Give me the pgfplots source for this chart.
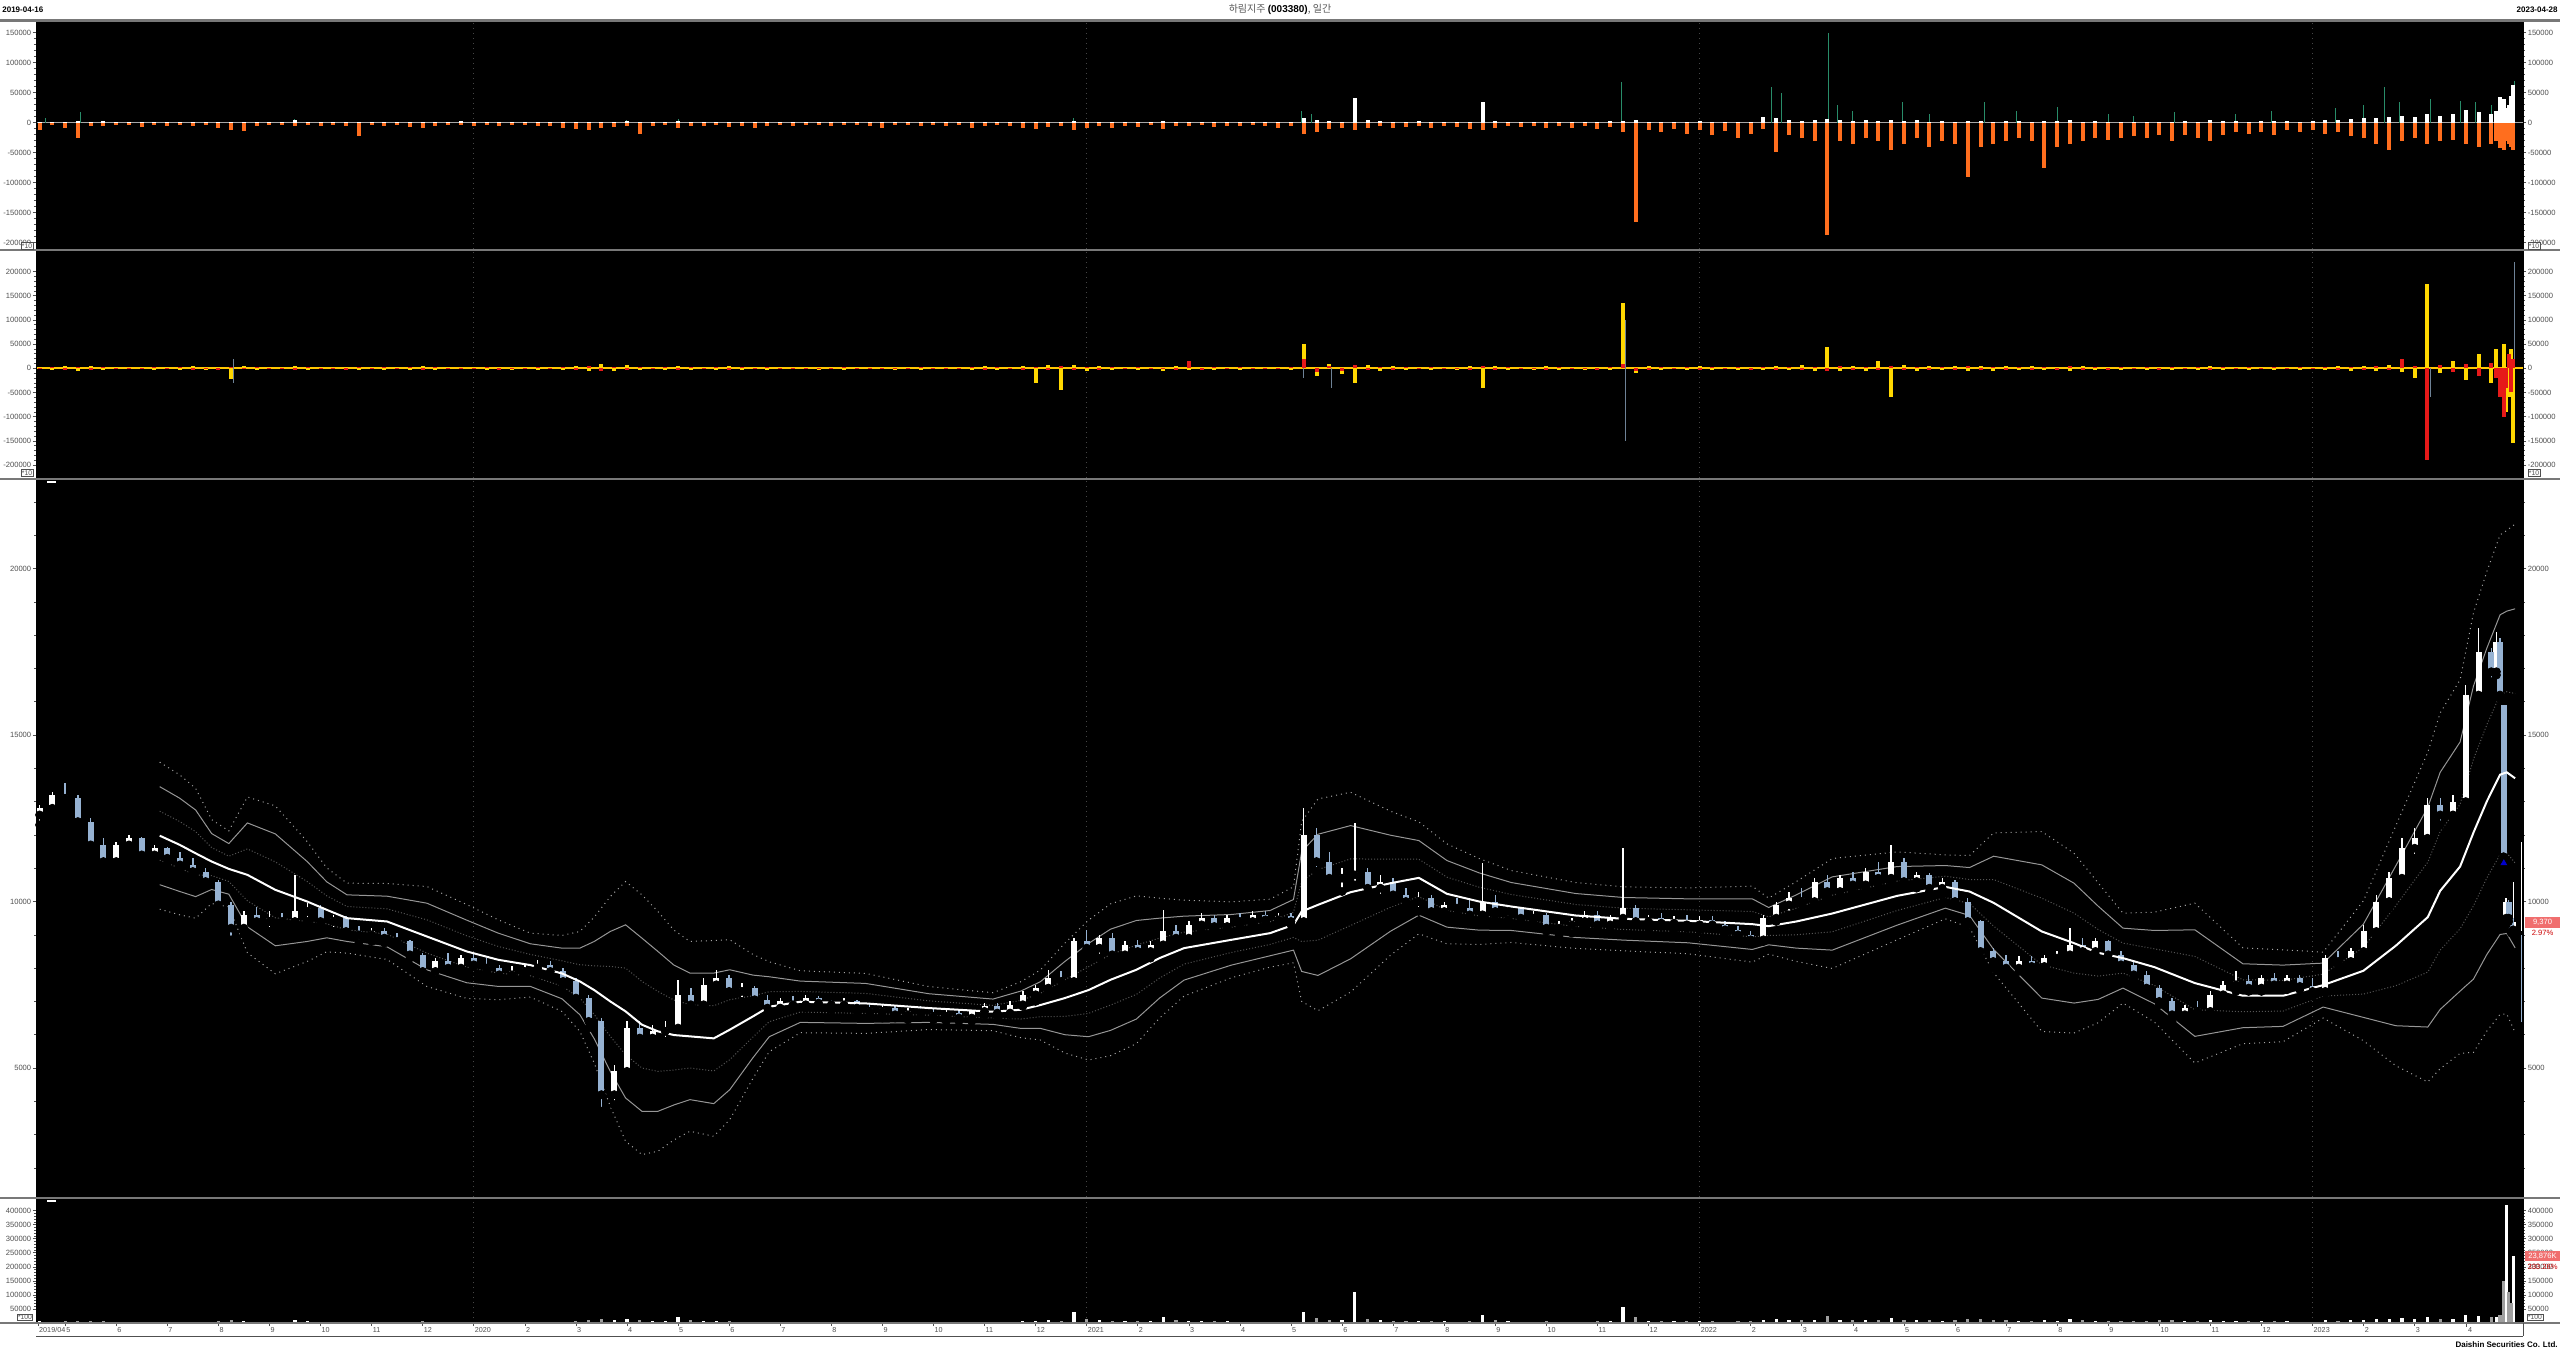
\documentclass[border=0pt]{standalone}
\usepackage{pgfplots}
\pgfplotsset{compat=1.18}
\usepackage{pgfplotstable}
\usepackage{fontspec}
\setmainfont{Liberation Sans}
\newfontfamily\kr{Noto Sans CJK KR}
\definecolor{org}{RGB}{255,110,30}
\definecolor{grn}{RGB}{40,140,105}
\definecolor{yel}{RGB}{255,215,0}
\definecolor{redb}{RGB}{230,25,25}
\definecolor{candown}{RGB}{150,178,210}
\definecolor{tickgray}{RGB}{80,80,80}
\definecolor{sep}{RGB}{120,120,120}
\definecolor{lblred}{RGB}{240,110,110}
\definecolor{gA}{RGB}{150,150,150}
\definecolor{gB}{RGB}{165,165,165}
\definecolor{gC}{RGB}{85,85,85}
\definecolor{grid}{RGB}{70,70,70}
\definecolor{spk}{RGB}{110,130,150}

\pgfplotstableread{
x o h l c org wht yel red vol
3.50 12600 12900 12300 12800 -12000 1000 3000 -2000 6000
3.75 12800 13300 12700 13200 -4000 2000 -4000 2500 5000
4.00 13200 13550 13000 13100 -9000 1500 5000 -3000 7000
4.25 13100 13200 12300 12400 -26000 3000 -6000 2000 8000
4.50 12400 12500 11500 11700 -6000 1000 4000 -3000 6000
4.75 11700 11900 10950 11200 -5000 3000 -3000 2000 7000
5.00 11200 11800 11100 11700 -3000 1500 2000 -2000 5000
5.25 11700 12000 11500 11900 -4000 1000 -2000 1500 4000
5.50 11900 11950 11300 11400 -7000 500 3000 -2000 4000
5.75 11400 11700 11200 11600 -3000 1000 -4000 2000 3500
6.00 11600 11650 11150 11300 -5000 800 2500 -1500 3500
6.25 11300 11500 11000 11100 -4000 600 -3000 2000 4000
6.50 11100 11300 10800 10900 -6000 1200 4000 -2500 4500
6.75 10900 11000 10500 10600 -3000 500 -2500 1500 4000
7.00 10600 10650 9800 9900 -8000 700 3500 -3000 6000
7.25 9900 10000 8850 9200 -12000 1000 -22000 3000 9000
7.50 9200 9700 9000 9600 -13000 2000 5000 -2000 7000
7.75 9600 9850 9300 9400 -5000 800 -3000 2000 5000
8.00 9400 9700 9100 9500 -4000 1500 3000 -1500 4500
8.25 9500 9650 9300 9400 -3000 500 -2000 1000 4000
8.50 9400 10800 9350 9700 -6000 5000 4000 -3000 12000
8.75 9700 9950 9400 9800 -4000 1000 -3000 2000 6000
9.00 9800 9900 9300 9400 -5000 800 2500 -2000 4000
9.25 9400 9600 9100 9500 -3000 600 -2000 1500 3500
9.50 9500 9550 9000 9100 -6000 700 3000 -2500 4000
9.75 9100 9250 8750 9000 -22000 500 -4000 2000 5000
10.00 9000 9200 8800 9100 -4000 1000 2000 -1500 3500
10.25 9100 9200 8750 8900 -5000 600 -3000 2000 3500
10.50 8900 9050 8700 8800 -4000 500 2500 -1500 3000
10.75 8800 8850 8300 8400 -7000 800 -3500 2500 4500
11.00 8400 8450 7700 7900 -9000 1000 4000 -3000 6000
11.25 7900 8300 7650 8200 -5000 2000 -3000 2000 5000
11.50 8200 8450 7900 8000 -4000 1500 3000 -2000 4000
11.75 8000 8400 7850 8300 -3000 2500 -2000 1500 4000
12.00 8300 8450 8050 8100 -5000 1000 2500 -2000 3500
12.25 8100 8300 7900 8000 -4000 800 -3000 2000 3500
12.50 8000 8100 7650 7800 -6000 600 3500 -2500 4000
12.75 7800 8050 7650 7900 -3000 1000 -2500 1500 3500
13.00 7900 8100 7750 8000 -4000 700 3000 -2000 3000
13.25 8000 8250 7800 8100 -5000 1200 -3000 2500 3500
13.50 8100 8200 7750 7900 -6000 500 2500 -2000 4000
13.75 7900 8000 7500 7600 -8000 800 -4000 3000 5000
14.00 7600 7700 7000 7100 -10000 600 5000 -3000 7000
14.25 7100 7200 6200 6400 -12000 800 -6000 4000 9000
14.50 6400 6500 3700 4200 -9000 1500 8000 -5000 14000
14.75 4200 5100 3900 4900 -7000 2000 -5000 3000 12000
15.00 4900 6400 4800 6200 -6000 3000 6000 -4000 15000
15.25 6200 6400 5700 5900 -19000 1000 -4000 3000 9000
15.50 5900 6300 5650 6100 -5000 1500 3000 -2000 7000
15.75 6100 6400 5800 6200 -4000 1000 -3000 2000 6000
16.00 6200 7650 6150 7200 -8000 3000 5000 -3000 22000
16.25 7200 7400 6650 6900 -6000 1000 -4000 2500 9000
16.50 6900 7700 6800 7500 -5000 2000 3500 -2000 8000
16.75 7500 7950 7300 7700 -4000 1500 -3000 2000 7000
17.00 7700 7800 7200 7300 -7000 800 4000 -2500 6000
17.25 7300 7550 7000 7400 -5000 1000 -2500 2000 5000
17.50 7400 7450 6950 7050 -9000 600 3000 -2000 5000
17.75 7050 7200 6600 6800 -6000 700 -3500 2500 5000
18.00 6800 7100 6700 7000 -4000 1200 2500 -1500 4000
18.25 7000 7150 6800 6900 -5000 500 -2000 1500 3500
18.50 6900 7200 6800 7100 -3000 1000 3000 -2000 4000
18.75 7100 7150 6850 6950 -4000 600 -2500 1500 3500
19.00 6950 7050 6750 6900 -6000 500 2000 -1500 3000
19.25 6900 7100 6800 7000 -3000 800 -3000 2000 3000
19.50 7000 7050 6700 6800 -4000 500 2500 -1500 3500
19.75 6800 6950 6600 6700 -5000 600 -2000 1500 3000
20.00 6700 6900 6500 6800 -8000 1000 3000 -2000 3500
20.25 6800 6850 6500 6600 -4000 500 -2500 1500 3000
20.50 6600 6800 6450 6700 -3000 700 2000 -1500 3000
20.75 6700 6850 6550 6650 -5000 600 -3000 2000 3000
21.00 6650 6800 6450 6550 -4000 500 2500 -1500 3000
21.25 6550 6750 6400 6650 -6000 900 -2000 1500 3500
21.50 6650 6750 6400 6500 -3000 500 3000 -2000 3000
21.75 6500 6750 6400 6700 -9000 1000 -3000 2000 3500
22.00 6700 6950 6600 6850 -5000 1500 4000 -2500 4000
22.25 6850 6950 6550 6650 -4000 600 -3500 2000 3500
22.50 6650 7000 6600 6900 -6000 1200 3000 -2000 5000
22.75 6900 7300 6850 7200 -8000 2000 5000 -3000 6000
23.00 7200 7500 7000 7400 -10000 1500 -30000 2500 6000
23.25 7400 7950 7300 7700 -7000 2000 6000 -3000 9000
23.50 7700 7900 7400 7600 -6000 1000 -45000 4000 8000
23.75 7600 8900 7550 8800 -12000 3000 7000 -4000 40000
24.00 8800 9150 8400 8600 -9000 1500 -6000 3000 14000
24.25 8600 9000 8300 8900 -6000 2000 5000 -3000 10000
24.50 8900 9050 8300 8400 -8000 1000 -4000 2500 8000
24.75 8400 8800 8250 8700 -5000 1500 3500 -2000 7000
25.00 8700 8850 8350 8500 -7000 800 -3000 2000 6000
25.25 8500 8800 8300 8700 -4000 1200 3000 -2000 6000
25.50 8700 9750 8600 9100 -10000 2500 -5000 -2000 20000
25.75 9100 9300 8700 8900 -6000 1000 4000 -3000 9000
26.00 8900 9400 8800 9300 -5000 1500 -3000 15000 8000
26.25 9300 9650 9100 9500 -4000 2000 3500 -2500 8000
26.50 9500 9600 9150 9250 -7000 800 -2500 2000 6000
26.75 9250 9600 9200 9500 -5000 1500 3000 -2000 6000
27.00 9500 9650 9300 9400 -6000 1000 -3000 2000 5000
27.25 9400 9700 9300 9600 -4000 1500 2500 -1500 5000
27.50 9600 9700 9350 9450 -5000 700 -2000 1500 4500
27.75 9450 9650 9350 9550 -8000 1000 3000 -2000 5000
28.00 9550 9650 9300 9400 -6000 2000 -3000 2000 5000
28.25 9400 12800 9350 12000 -18000 8000 50000 20000 40000
28.50 12000 12200 10900 11200 -15000 5000 -15000 -8000 18000
28.75 11200 11500 10500 10700 -10000 3000 8000 5000 12000
29.00 10700 11000 10300 10800 -8000 2000 -12000 -5000 9000
29.25 10800 12350 10500 10900 -12000 41000 -30000 6000 110000
29.50 10900 11000 10200 10400 -9000 4000 6000 -4000 15000
29.75 10400 10800 10100 10600 -6000 3000 -5000 3000 9000
30.00 10600 10700 10000 10200 -8000 2000 4000 -3000 8000
30.25 10200 10400 9800 10000 -7000 1500 -4000 2500 7000
30.50 10000 10300 9700 10100 -5000 2500 3500 -2000 7000
30.75 10100 10200 9600 9700 -9000 1000 -3000 2000 6000
31.00 9700 10000 9500 9900 -6000 2000 3000 -2000 6000
31.25 9900 10100 9600 9800 -7000 1500 -2500 1500 5000
31.50 9800 10100 9500 9600 -10000 1000 4000 -2500 6000
31.75 9600 11150 9550 10000 -12000 35000 -40000 5000 30000
32.00 10000 10200 9600 9700 -8000 3000 5000 -3000 9000
32.25 9700 9900 9450 9800 -6000 2000 -3000 2000 6000
32.50 9800 9850 9400 9500 -7000 1000 3000 -2000 5000
32.75 9500 9700 9350 9600 -5000 1500 -2500 1500 5000
33.00 9600 9650 9100 9200 -9000 800 4000 -3000 6000
33.25 9200 9400 9000 9300 -6000 1200 -3000 2000 5000
33.50 9300 9500 9050 9400 -8000 1500 3000 -2000 5000
33.75 9400 9700 9200 9600 -5000 2000 -2500 1500 5000
34.00 9600 9700 9200 9300 -10000 1000 3500 -2500 6000
34.25 9300 9600 9150 9500 -7000 2500 -3000 2000 6000
34.50 9500 11600 9400 9800 -15000 3000 135000 8000 58000
34.75 9800 9900 9300 9400 -166000 4000 -10000 -6000 20000
35.00 9400 9600 9200 9500 -12000 2000 5000 -3000 8000
35.25 9500 9650 9250 9350 -15000 1500 -4000 2500 7000
35.50 9350 9550 9150 9450 -10000 2000 3000 -2000 6000
35.75 9450 9600 9200 9300 -18000 1000 -3500 2500 6000
36.00 9300 9550 9150 9450 -12000 2500 4000 -3000 6000
36.25 9450 9550 9200 9300 -20000 1500 -3000 2000 6000
36.50 9300 9400 9050 9150 -14000 1000 3000 -2000 5000
36.75 9150 9250 8900 9000 -25000 1200 -4000 3000 7000
37.00 9000 9100 8750 8850 -18000 800 3500 -2500 7000
37.25 8850 9600 8800 9500 -10000 10000 -3000 2000 12000
37.50 9500 10000 9400 9900 -49000 8000 5000 -3000 14000
37.75 9900 10300 9600 10100 -20000 5000 -4000 3000 12000
38.00 10100 10400 9900 10000 -25000 3000 6000 -3000 10000
38.25 10000 10700 9950 10600 -30000 4000 -5000 3000 12000
38.50 10600 10800 10100 10300 -187000 6000 45000 -5000 25000
38.75 10300 10800 10200 10700 -30000 4000 -6000 4000 12000
39.00 10700 10900 10300 10500 -35000 3000 5000 -3000 10000
39.25 10500 11000 10400 10900 -25000 4000 -5000 3000 10000
39.50 10900 11200 10500 10700 -30000 3000 15000 -4000 11000
39.75 10700 11700 10600 11200 -45000 5000 -60000 5000 18000
40.00 11200 11300 10500 10600 -35000 3000 6000 -4000 12000
40.25 10600 10900 10400 10800 -25000 4000 -5000 3000 9000
40.50 10800 10850 10300 10400 -40000 2000 5000 -3000 9000
40.75 10400 10700 10200 10600 -30000 3000 -4000 2500 8000
41.00 10600 10650 9900 10000 -35000 2000 4000 -3000 9000
41.25 10000 10100 9300 9400 -90000 2500 -6000 4000 14000
41.50 9400 9450 8300 8500 -40000 3000 5000 -3000 16000
41.75 8500 8600 8000 8200 -35000 2000 -5000 3000 12000
42.00 8200 8400 7900 8000 -30000 2500 4000 -2500 9000
42.25 8000 8350 7900 8200 -25000 3000 -3500 2500 8000
42.50 8200 8350 7900 8050 -30000 2000 4000 -3000 8000
42.75 8050 8400 7950 8300 -76000 3000 -3000 2000 9000
43.00 8300 8500 8150 8400 -40000 2500 3500 -2500 8000
43.25 8400 9200 8300 8700 -35000 4000 -5000 4000 14000
43.50 8700 8900 8300 8500 -30000 2000 4000 -3000 9000
43.75 8500 8900 8400 8800 -25000 3000 -3000 2000 8000
44.00 8800 8850 8300 8400 -28000 2000 3000 -2500 7000
44.25 8400 8500 8000 8100 -25000 1500 -3500 2500 7000
44.50 8100 8200 7700 7800 -22000 2000 3000 -2000 7000
44.75 7800 7900 7300 7400 -25000 1500 -4000 3000 8000
45.00 7400 7500 6900 7000 -20000 2000 3500 -2500 9000
45.25 7000 7100 6400 6600 -30000 1500 -4000 3000 10000
45.50 6600 6900 6450 6800 -20000 3000 3000 -2000 8000
45.75 6800 7000 6550 6700 -25000 2000 -2500 2000 7000
46.00 6700 7300 6650 7200 -30000 4000 4000 -3000 9000
46.25 7200 7600 7000 7500 -20000 3000 -3000 2000 8000
46.50 7500 7900 7300 7600 -15000 2500 3000 -2000 8000
46.75 7600 7800 7300 7400 -18000 2000 -2500 2000 6000
47.00 7400 7800 7300 7700 -15000 3000 3000 -2000 6000
47.25 7700 7850 7400 7500 -20000 2500 -3000 2000 6000
47.50 7500 7800 7350 7700 -12000 3000 2500 -2000 6000
47.75 7700 7800 7350 7450 -15000 2000 -3000 2000 5000
48.00 7450 7700 7150 7300 -12000 3000 3000 -2000 5000
48.25 7300 8400 7250 8300 -18000 5000 -4000 3000 12000
48.50 8300 8500 8100 8200 -15000 4000 4000 -3000 8000
48.75 8200 8600 8100 8500 -22000 6000 -5000 3000 9000
49.00 8500 9300 8400 9100 -25000 8000 5000 -4000 12000
49.25 9100 10200 9000 10000 -35000 8000 -6000 4000 15000
49.50 10000 10900 9800 10700 -46000 10000 6000 -4000 16000
49.75 10700 11900 10600 11600 -30000 12000 -8000 20000 18000
50.00 11600 12200 11300 11900 -25000 10000 -20000 5000 15000
50.25 11900 13100 11800 12900 -35000 15000 175000 -190000 20000
50.50 12900 13100 12300 12600 -30000 12000 -10000 6000 14000
50.75 12600 13200 12500 13000 -28000 15000 15000 -8000 16000
51.00 13000 16500 12900 16200 -35000 22000 -25000 8000 30000
51.25 16200 18200 16000 17500 -40000 18000 30000 -15000 25000
51.50 17500 17600 16600 16900 -35000 15000 -30000 10000 20000
51.60 16900 18100 16800 17800 -30000 20000 40000 -20000 22000
51.67 17800 17900 16100 16200 -42000 43000 -40000 -60000 28000
51.74 15900 15900 11340 11340 -45000 40000 50000 -100000 150000
51.79 9500 10100 9300 10000 -30000 25000 -90000 -40000 420000
51.84 10000 10050 9400 9500 -35000 30000 -60000 30000 110000
51.89 9500 9600 9050 9100 -40000 45000 40000 -50000 70000
51.93 9150 10600 9050 9370 -45000 63000 -155000 20000 240000
}\data

\pgfplotstableread{
x ma u1 l1 u2 l2 u3 l3
5.852 11977 12713 11241 13449 10505 14185 9769
6.246 11700 12400 11000 13100 10300 13800 9600
6.556 11447 12097 10797 12747 10147 13397 9497
6.869 11200 11620 10780 12040 10360 12460 9940
7.205 10980 11360 10600 11740 10220 12120 9840
7.569 10800 11580 10020 12360 9240 13140 8460
8.116 10350 11190 9510 12030 8670 12870 7830
8.739 10000 10600 9400 11200 8800 11800 8200
9.123 9750 10170 9330 10590 8910 11010 8490
9.519 9500 9850 9150 10200 8800 10550 8450
10.302 9400 9780 9020 10160 8640 10540 8260
11.082 8950 9450 8450 9950 7950 10450 7450
11.863 8500 8970 8030 9440 7560 9910 7090
12.480 8250 8650 7850 9050 7450 9450 7050
13.109 8090 8410 7770 8730 7450 9050 7130
13.726 7840 8220 7460 8600 7080 8980 6700
14.078 7600 8100 7100 8600 6600 9100 6100
14.359 7340 8070 6610 8800 5880 9530 5150
14.673 7000 8050 5950 9100 4900 10150 3850
14.973 6700 8000 5400 9300 4100 10600 2800
15.293 6300 7600 5000 8900 3700 10200 2400
15.606 6100 7300 4900 8500 3700 9700 2500
15.919 5990 7040 4940 8090 3890 9140 2840
16.233 5950 6900 5000 7850 4050 8800 3100
16.700 5890 6870 4910 7850 3930 8830 2950
17.013 6150 7050 5250 7950 4350 8850 3450
17.467 6550 7170 5930 7790 5310 8410 4690
17.786 6840 7290 6390 7740 5940 8190 5490
18.394 6990 7300 6680 7610 6370 7920 6060
19.673 6940 7240 6640 7540 6340 7840 6040
20.913 6800 7015 6585 7230 6370 7445 6155
22.166 6690 6880 6500 7070 6310 7260 6120
22.710 6750 7030 6470 7310 6190 7590 5910
23.093 6890 7240 6540 7590 6190 7940 5840
23.573 7100 7650 6550 8200 6000 8750 5450
24.036 7340 8040 6640 8740 5940 9440 5240
24.468 7650 8410 6890 9170 6130 9930 5370
24.973 7950 8690 7210 9430 6470 10170 5730
25.427 8300 8900 7700 9500 7100 10100 6500
25.907 8600 9080 8120 9560 7640 10040 7160
26.834 8850 9230 8470 9610 8090 9990 7710
27.591 9050 9390 8710 9730 8370 10070 8030
28.049 9300 9680 8920 10060 8540 10440 8160
28.209 9700 10600 8800 11500 7900 12400 7000
28.529 9900 10960 8840 12020 7780 13080 6720
29.168 10280 11280 9280 12280 8280 13280 7280
29.951 10550 11270 9830 11990 9110 12710 8390
30.504 10710 11270 10150 11830 9590 12390 9030
31.054 10230 10730 9730 11230 9230 11730 8730
31.684 10000 10430 9570 10860 9140 11290 8710
32.313 9850 10210 9490 10570 9130 10930 8770
33.573 9580 9910 9250 10240 8920 10570 8590
34.516 9480 9800 9160 10120 8840 10440 8520
35.775 9420 9750 9090 10080 8760 10410 8430
37.032 9320 9700 8940 10080 8560 10460 8180
37.352 9260 9540 8980 9820 8700 10100 8420
37.895 9400 9800 9000 10200 8600 10600 8200
38.598 9640 10190 9090 10740 8540 11290 7990
39.868 10170 10610 9730 11050 9290 11490 8850
40.811 10440 10760 10120 11080 9800 11400 9480
41.284 10300 10660 9940 11020 9580 11380 9220
41.757 9960 10660 9260 11360 8560 12060 7860
42.700 9100 10100 8100 11100 7100 12100 6100
43.330 8750 9650 7850 10550 6950 11450 6050
43.803 8460 9160 7760 9860 7060 10560 6360
44.289 8300 8750 7850 9200 7400 9650 6950
44.903 8030 8580 7480 9130 6930 9680 6380
45.696 7550 8350 6750 9150 5950 9950 5150
46.636 7170 7650 6690 8130 6210 8610 5730
47.422 7170 7630 6710 8090 6250 8550 5790
48.209 7490 7820 7160 8150 6830 8480 6500
48.996 7920 8620 7220 9320 6520 10020 5820
49.629 8670 9870 7470 11070 6270 12270 5070
50.256 9530 11180 7880 12830 6230 14480 4580
50.499 10320 12100 8540 13880 6760 15660 4980
50.889 11050 12920 9180 14790 7310 16660 5440
51.151 12070 14270 9870 16470 7670 18670 5470
51.413 13010 15310 10710 17610 8410 19910 6110
51.672 13810 16210 11410 18610 9010 21010 6610
51.803 13880 16300 11460 18720 9040 21140 6620
51.966 13700 16245 11155 18790 8610 21335 6065
}\bands

\pgfplotstableread{
x v
3.62 8000
4.30 18000
8.50 6000
15.00 5000
16.00 6000
23.75 8000
28.20 20000
28.40 15000
29.25 10000
34.47 68000
37.40 60000
37.60 50000
38.53 150000
38.70 30000
39.00 20000
39.97 35000
40.50 15000
41.57 35000
42.20 20000
43.00 27000
44.00 15000
44.50 12000
45.30 18000
46.50 15000
47.20 20000
48.44 25000
49.00 30000
49.40 60000
49.70 35000
50.30 40000
50.90 36000
51.20 35000
51.50 30000
51.70 25000
51.96 70000
}\grnspk

\pgfplotstableread{
x v
7.30 -30000
7.30 20000
28.25 -20000
28.25 45000
28.80 -40000
31.75 -30000
34.55 -150000
34.55 100000
50.30 -60000
51.96 220000
51.96 -140000
}\gryspk

\pgfplotsset{
  base/.style={
    scale only axis, width=1243.5pt, xmin=3.43, xmax=52.12,
    tick align=outside, major tick length=1.6pt, minor tick length=1pt,
    tick style={tickgray, line width=0.3pt},
    xtick=\empty, scaled y ticks=false,
    yticklabel style={font=\fontsize{3.8pt}{4.5pt}\selectfont, text=tickgray, inner sep=0.6pt,
      /pgf/number format/fixed, /pgf/number format/precision=0, /pgf/number format/1000 sep={}},
    /pgf/number format/assume math mode=true,
    axis line style={draw=black, line width=0.4pt},
  },
  L/.style={base, ytick pos=left, axis background/.style={fill=black}},
  R/.style={base, ytick pos=right, yticklabel pos=right},
}

\begin{document}
\begin{tikzpicture}
\path[use as bounding box] (0,0) rectangle (1280pt,-676.5pt);
\fill[white] (0,0) rectangle (1280pt,-676.5pt);

% ---------------- Panel 1 ----------------
\begin{axis}[L, at={(18pt,-124.5pt)}, anchor=south west, height=113.75pt,
  ymin=-210500, ymax=168700, ytick={-200000,-150000,...,150000}, minor y tick num=4]
  \pgfplotsinvokeforeach{12,24,36,48}{\draw[grid, dotted, line width=0.5pt] (axis cs:#1,-210500) -- (axis cs:#1,168700);}
  \draw[gray!70, line width=0.4pt] (axis cs:3.43,0) -- (axis cs:52.12,0);
  \addplot[ycomb, grn, line width=0.5pt, mark=none] table[x=x, y=v] {\grnspk};
  \addplot[ycomb, org, line width=2pt, mark=none] table[x=x, y=org] {\data};
  \addplot[ycomb, white, line width=2pt, mark=none] table[x=x, y=wht] {\data};
\end{axis}
\begin{axis}[R, at={(18pt,-124.5pt)}, anchor=south west, height=113.75pt,
  ymin=-210500, ymax=168700, ytick={-200000,-150000,...,150000}, minor y tick num=4]
  \addplot[draw=none] coordinates {(10,0)};
\end{axis}

% ---------------- Panel 2 ----------------
\begin{axis}[L, at={(18pt,-239pt)}, anchor=south west, height=113.5pt,
  ymin=-226700, ymax=242400, ytick={-200000,-150000,...,200000}, minor y tick num=4]
  \pgfplotsinvokeforeach{12,24,36,48}{\draw[grid, dotted, line width=0.5pt] (axis cs:#1,-226700) -- (axis cs:#1,242400);}
  \draw[yel!80!orange, line width=1pt] (axis cs:3.43,0) -- (axis cs:52.12,0);
  \addplot[ycomb, spk, line width=0.5pt, mark=none] table[x=x, y=v] {\gryspk};
  \addplot[ycomb, yel, line width=2pt, mark=none] table[x=x, y=yel] {\data};
  \addplot[ycomb, redb, line width=2pt, mark=none] table[x=x, y=red] {\data};
\end{axis}
\begin{axis}[R, at={(18pt,-239pt)}, anchor=south west, height=113.5pt,
  ymin=-226700, ymax=242400, ytick={-200000,-150000,...,200000}, minor y tick num=4]
  \addplot[draw=none] coordinates {(10,0)};
\end{axis}

% ---------------- Panel 3: price ----------------
\begin{axis}[L, at={(18pt,-598.5pt)}, anchor=south west, height=358.5pt,
  ymin=1126, ymax=22658, ytick={5000,10000,15000,20000}, minor ytick={2000,3000,...,22000}]
  \pgfplotsinvokeforeach{12,24,36,48}{\draw[grid, dotted, line width=0.5pt] (axis cs:#1,1126) -- (axis cs:#1,22658);}
  \addplot[gB, dotted, line width=0.5pt] table[x=x, y=u3] {\bands};
  \addplot[gB, dotted, line width=0.5pt] table[x=x, y=l3] {\bands};
  \addplot[gC, densely dotted, line width=0.5pt] table[x=x, y=u1] {\bands};
  \addplot[gC, densely dotted, line width=0.5pt] table[x=x, y=l1] {\bands};
  \addplot[gA, line width=0.5pt] table[x=x, y=u2] {\bands};
  \addplot[gA, line width=0.5pt] table[x=x, y=l2] {\bands};
  % wicks
  \addplot[only marks, mark=none, restrict expr to domain={\thisrow{c}-\thisrow{o}}{0:100000},
    error bars/.cd, y dir=plus, y explicit, error mark=none, error bar style={white, line width=0.7pt}]
    table[x=x, y=l, y error plus expr=\thisrow{h}-\thisrow{l}] {\data};
  \addplot[only marks, mark=none, restrict expr to domain={\thisrow{c}-\thisrow{o}}{-100000:-0.5},
    error bars/.cd, y dir=plus, y explicit, error mark=none, error bar style={candown, line width=0.7pt}]
    table[x=x, y=l, y error plus expr=\thisrow{h}-\thisrow{l}] {\data};
  % bodies
  \addplot[only marks, mark=none, restrict expr to domain={\thisrow{c}-\thisrow{o}}{0:100000},
    error bars/.cd, y dir=plus, y explicit, error mark=none, error bar style={white, line width=3pt}]
    table[x=x, y=o, y error plus expr=\thisrow{c}-\thisrow{o}] {\data};
  \addplot[only marks, mark=none, restrict expr to domain={\thisrow{c}-\thisrow{o}}{-100000:-0.5},
    error bars/.cd, y dir=plus, y explicit, error mark=none, error bar style={candown, line width=3pt}]
    table[x=x, y=c, y error plus expr=\thisrow{o}-\thisrow{c}] {\data};
  \addplot[white, line width=1pt] table[x=x, y=ma] {\bands};
  \addplot[only marks, mark=triangle*, mark size=1.6pt, color=blue!80!black] coordinates {(51.745,11150)};
  \addplot[white, line width=0.8pt] coordinates {(52.09,9120) (52.09,11800)};
  \addplot[candown, line width=0.8pt] coordinates {(52.09,6370) (52.09,8980)};
\end{axis}
\begin{axis}[R, at={(18pt,-598.5pt)}, anchor=south west, height=358.5pt,
  ymin=1126, ymax=22658, ytick={5000,10000,15000,20000}, minor ytick={2000,3000,...,22000}]
  \addplot[draw=none] coordinates {(10,5000)};
\end{axis}

% ---------------- Panel 4: volume ----------------
\begin{axis}[L, at={(18pt,-661.5pt)}, anchor=south west, height=62pt,
  ymin=0, ymax=441300, ytick={50000,100000,...,400000}, minor y tick num=4,
  xtick={3.47,4,5,6,7,8,9,10,11,12,13,14,15,16,17,18,19,20,21,22,23,24,25,26,27,28,29,30,31,32,33,34,35,36,37,38,39,40,41,42,43,44,45,46,47,48,49,50},
  xticklabels={2019/04,5,6,7,8,9,10,11,12,2020,2,3,4,5,6,7,8,9,10,11,12,2021,2,3,4,5,6,7,8,9,10,11,12,2022,2,3,4,5,6,7,8,9,10,11,12,2023,2,3},
  xtick pos=bottom,
  xticklabel style={font=\fontsize{3.6pt}{4pt}\selectfont, text=tickgray, anchor=north west, inner sep=0.4pt}]
  \pgfplotsinvokeforeach{12,24,36,48}{\draw[grid, dotted, line width=0.5pt] (axis cs:#1,0) -- (axis cs:#1,441300);}
  \addplot[ycomb, white, line width=1.6pt, mark=none, restrict expr to domain={\thisrow{c}-\thisrow{o}}{0:100000}] table[x=x, y=vol] {\data};
  \addplot[ycomb, gray!75, line width=1.6pt, mark=none, restrict expr to domain={\thisrow{c}-\thisrow{o}}{-100000:-0.5}] table[x=x, y=vol] {\data};
\end{axis}
\begin{axis}[R, at={(18pt,-661.5pt)}, anchor=south west, height=62pt,
  ymin=0, ymax=441300, ytick={50000,100000,...,400000}, minor y tick num=4]
  \addplot[draw=none] coordinates {(10,0)};
\end{axis}

% ---------------- decorations (pixel coords, y down) ----------------
\begin{scope}[x=0.5pt, y=-0.5pt]
  \foreach \yy in {20.5,250,479,1198,1323}{\draw[sep, line width=1.2pt] (0,\yy) -- (2560,\yy);}
  \draw[tickgray, line width=0.4pt] (36,1336) -- (2523,1336);
  \draw[tickgray, line width=0.3pt] (2523,1323) -- (2523,1336);
  % April 2023 month tick and label
  \draw[tickgray, line width=0.3pt] (2466,1323.5) -- (2466,1326.5);
  \node[anchor=north west, inner sep=0.8pt, font=\fontsize{3.6pt}{4pt}\selectfont, text=tickgray] at (2466,1326) {4};
  \draw[white, line width=1pt] (47,482) -- (56,482);
  \draw[white, line width=1pt] (47,1201) -- (56,1201);
  \node[anchor=west, inner sep=0pt, font=\fontsize{4pt}{4.5pt}\selectfont\bfseries] at (2,10) {2019-04-16};
  \node[anchor=east, inner sep=0pt, font=\fontsize{4pt}{4.5pt}\selectfont\bfseries] at (2558,10) {2023-04-28};
  \node[inner sep=0pt] at (1280,9) {\fontsize{5pt}{6pt}\selectfont{\kr\color{black!65}하림지주 }{\bfseries (003380)}{\kr\color{black!65}, 일간}};
  \node[anchor=east, inner sep=0pt, font=\fontsize{4pt}{4.5pt}\selectfont\bfseries] at (2558,1345) {Daishin Securities Co. Ltd.};
  % unit boxes
  \foreach \xx/\yy/\tt in {27/246/*10, 2534/246/*10, 27/473/*10, 2534/473/*10, 25/1317/*100, 2535/1317/*100}{
    \node[draw=tickgray, fill=white, line width=0.3pt, inner sep=0.4pt, font=\fontsize{3.4pt}{4pt}\selectfont, text=tickgray] at (\xx,\yy) {\tt};}
  % current value labels
  \fill[lblred] (2525,917) rectangle (2560,927.5);
  \node[text=white, inner sep=0pt, font=\fontsize{3.8pt}{4pt}\selectfont] at (2542.5,922.3) {9,370};
  \node[text=red!80!black, inner sep=0pt, font=\fontsize{3.8pt}{4pt}\selectfont] at (2542.5,933) {2.97\%};
  \fill[lblred] (2525,1251) rectangle (2560,1261);
  \node[text=white, inner sep=0pt, font=\fontsize{3.8pt}{4pt}\selectfont] at (2542.5,1256) {23,876K};
  \node[text=red!80!black, inner sep=0pt, font=\fontsize{3.8pt}{4pt}\selectfont] at (2542.5,1266.5) {333.26\%};
\end{scope}
\end{tikzpicture}
\end{document}
